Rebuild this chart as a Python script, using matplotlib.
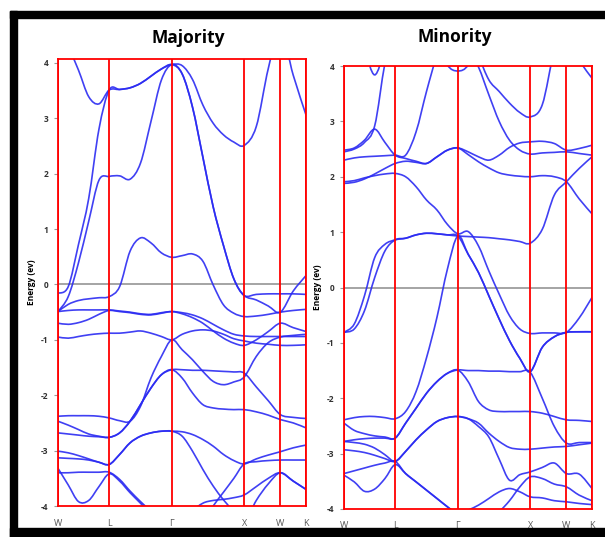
import numpy as np
import matplotlib
matplotlib.use("Agg")
import matplotlib.pyplot as plt
from matplotlib.patches import Rectangle, PathPatch
from matplotlib.path import Path

# fcc path W-L-G-X-W-K, distances in units of 2pi/a
sym_labels = ["W", "L", "Γ", "X", "W", "K"]
sym_dist = [0.0, 0.707, 1.573, 2.573, 3.073, 3.427]
seg_steps = [5, 6, 7, 3, 2]  # sample intervals per segment

# ---- Majority bands (eV), 24 samples along the path ----
#        W-L ...................................| L-G ...............................| G-X ..........................................| X-W ..............| W-K
maj_1 = [4.70, 4.30, 3.87, 3.39, 3.26, 3.51, 3.52, 3.55, 3.63, 3.76, 3.89, 3.97, 3.95, 3.70, 3.24, 2.91, 2.70, 2.57, 2.51, 2.85, 3.90, 4.60, 3.78, 3.06]
maj_2 = [-0.16, -0.04, 0.72, 1.55, 2.80, 3.51, 3.52, 3.55, 3.63, 3.76, 3.89, 3.97, 3.80, 3.20, 2.30, 1.40, 0.70, 0.10, -0.20, -0.18, -0.17, -0.17, -0.17, -0.18]
maj_3 = [-0.49, -0.22, 0.39, 1.14, 1.88, 1.95, 1.96, 1.90, 2.19, 2.94, 3.69, 3.97, 3.80, 3.20, 2.30, 1.40, 0.70, 0.10, -0.20, -0.28, -0.39, -0.50, -0.12, 0.16]
maj_4 = [-0.49, -0.36, -0.29, -0.26, -0.24, -0.22, -0.04, 0.60, 0.84, 0.75, 0.57, 0.49, 0.52, 0.55, 0.42, -0.01, -0.37, -0.52, -0.58, -0.57, -0.54, -0.50, -0.47, -0.45]
maj_5 = [-0.49, -0.47, -0.46, -0.46, -0.46, -0.46, -0.48, -0.50, -0.53, -0.54, -0.51, -0.49, -0.51, -0.55, -0.62, -0.72, -0.82, -0.90, -0.93, -0.94, -0.94, -0.94, -0.94, -0.94]
maj_6 = [-0.70, -0.72, -0.69, -0.63, -0.54, -0.47, -0.49, -0.51, -0.54, -0.55, -0.52, -0.49, -0.53, -0.60, -0.70, -0.84, -0.97, -1.06, -1.10, -1.00, -0.85, -0.70, -0.78, -0.85]
maj_7 = [-0.95, -0.97, -0.94, -0.91, -0.89, -0.88, -0.88, -0.86, -0.84, -0.88, -0.94, -1.00, -0.90, -0.84, -0.82, -0.84, -0.90, -0.98, -1.02, -1.06, -1.08, -1.10, -1.10, -1.09]
maj_8 = [-2.38, -2.37, -2.37, -2.37, -2.38, -2.41, -2.46, -2.47, -2.20, -1.69, -1.30, -1.00, -1.18, -1.36, -1.57, -1.75, -1.81, -1.76, -1.67, -1.30, -1.05, -0.95, -0.92, -0.90]
maj_9 = [-2.47, -2.54, -2.62, -2.70, -2.74, -2.76, -2.68, -2.47, -2.17, -1.87, -1.63, -1.54, -1.54, -1.55, -1.55, -1.56, -1.57, -1.58, -1.60, -1.85, -2.10, -2.35, -2.40, -2.42]
maj_10 = [-2.68, -2.70, -2.72, -2.74, -2.75, -2.76, -2.68, -2.47, -2.17, -1.87, -1.63, -1.54, -1.69, -1.96, -2.17, -2.23, -2.25, -2.26, -2.26, -2.30, -2.36, -2.44, -2.50, -2.59]
maj_11 = [-3.13, -3.14, -3.15, -3.17, -3.21, -3.25, -3.07, -2.86, -2.74, -2.68, -2.65, -2.65, -2.66, -2.71, -2.80, -2.92, -3.07, -3.18, -3.24, -3.15, -3.08, -3.02, -2.95, -2.90]
maj_12 = [-3.01, -3.04, -3.09, -3.15, -3.21, -3.25, -3.07, -2.86, -2.74, -2.68, -2.65, -2.65, -2.74, -3.01, -3.34, -3.64, -3.89, -4.10, -4.30, -3.90, -3.60, -3.40, -3.55, -3.70]
maj_13 = [-3.40, -3.40, -3.39, -3.39, -3.39, -3.39, -3.52, -3.73, -3.92, -4.10, -4.30, -4.50, -4.60, -4.50, -4.30, -4.00, -3.75, -3.50, -3.24, -3.20, -3.18, -3.17, -3.17, -3.17]
maj_14 = [-3.32, -3.62, -3.92, -3.90, -3.65, -3.42, -3.55, -3.76, -3.95, -4.15, -4.35, -4.55, -4.40, -4.10, -3.95, -3.90, -3.88, -3.85, -3.80, -3.65, -3.50, -3.40, -3.55, -3.70]

# ---- Minority bands (eV) ----
min_1 = [2.45, 2.50, 2.62, 2.92, 4.05, 4.80, 5.00, 5.00, 4.80, 4.50, 4.02, 3.91, 4.02, 4.50, 4.80, 5.00, 5.00, 5.00, 5.00, 4.90, 4.70, 4.50, 4.10, 3.78]
min_2 = [2.48, 2.52, 2.66, 2.86, 2.62, 2.39, 2.33, 2.28, 2.24, 2.36, 2.48, 2.52, 2.45, 2.36, 2.30, 2.39, 2.53, 2.61, 2.63, 2.64, 2.60, 2.48, 2.51, 2.57]
min_3 = [2.30, 2.34, 2.36, 2.37, 2.38, 2.39, 2.39, 2.81, 3.54, 4.20, 4.70, 5.00, 4.80, 4.20, 3.75, 3.54, 3.33, 3.16, 3.08, 3.30, 4.30, 5.00, 4.60, 4.30]
min_4 = [1.91, 1.93, 1.98, 2.02, 2.05, 2.06, 2.00, 1.82, 1.58, 1.40, 1.14, 0.97, 1.01, 0.75, 0.30, -0.12, -0.51, -0.75, -0.83, -0.82, -0.82, -0.81, -0.55, -0.18]
min_5 = [-0.81, -0.66, -0.15, 0.54, 0.78, 0.86, 0.89, 0.95, 0.98, 0.97, 0.95, 0.93, 0.92, 0.91, 0.90, 0.88, 0.86, 0.83, 0.80, 1.05, 1.67, 1.91, 2.15, 2.36]
min_6 = [-0.81, -0.75, -0.42, 0.18, 0.66, 0.86, 0.89, 0.95, 0.98, 0.97, 0.95, 0.93, 0.60, 0.27, -0.15, -0.57, -0.96, -1.28, -1.52, -1.08, -0.89, -0.81, -0.80, -0.80]
min_7 = [-2.39, -2.35, -2.33, -2.33, -2.35, -2.37, -2.24, -1.88, -1.27, -0.54, 0.33, 0.93, 0.60, 0.27, -0.15, -0.57, -0.96, -1.28, -1.52, -1.08, -0.89, -0.81, -0.80, -0.80]
min_8 = [-2.45, -2.58, -2.64, -2.68, -2.70, -2.72, -2.45, -2.18, -1.91, -1.70, -1.55, -1.49, -1.50, -1.50, -1.51, -1.51, -1.52, -1.52, -1.53, -2.00, -2.51, -2.81, -2.80, -2.80]
min_9 = [-2.78, -2.75, -2.73, -2.72, -2.72, -2.72, -2.45, -2.18, -1.91, -1.70, -1.55, -1.49, -1.70, -2.06, -2.21, -2.24, -2.24, -2.24, -2.24, -2.27, -2.33, -2.39, -2.40, -2.42]
min_10 = [-2.78, -2.80, -2.83, -2.90, -3.02, -3.14, -2.96, -2.75, -2.57, -2.42, -2.35, -2.33, -2.37, -2.45, -2.63, -2.78, -2.89, -2.92, -2.92, -2.90, -2.88, -2.87, -2.84, -2.81]
min_11 = [-2.93, -2.95, -2.98, -3.03, -3.09, -3.14, -2.96, -2.75, -2.57, -2.42, -2.35, -2.33, -2.37, -2.51, -2.70, -3.10, -3.48, -3.38, -3.33, -3.25, -3.17, -3.36, -3.37, -3.63]
min_12 = [-3.39, -3.51, -3.68, -3.64, -3.45, -3.20, -3.36, -3.51, -3.66, -3.81, -3.96, -4.10, -4.02, -3.93, -3.81, -3.69, -3.63, -3.69, -3.78, -3.80, -3.85, -3.87, -3.90, -3.92]
min_13 = [-3.36, -3.31, -3.26, -3.21, -3.17, -3.14, -3.36, -3.51, -3.66, -3.81, -3.96, -4.10, -4.30, -4.30, -4.20, -4.05, -3.85, -3.60, -3.42, -3.45, -3.55, -3.60, -3.75, -3.85]
min_14 = [4.60, 4.70, 4.80, 4.90, 5.00, 5.00, 5.00, 5.00, 5.00, 4.90, 4.70, 4.50, 4.30, 3.98, 3.48, 3.00, 2.66, 2.48, 2.41, 2.43, 2.44, 2.45, 2.42, 2.39]
min_15 = [1.88, 1.90, 1.96, 2.05, 2.15, 2.24, 2.28, 2.26, 2.24, 2.36, 2.48, 2.52, 2.40, 2.27, 2.16, 2.07, 2.03, 2.01, 2.00, 2.02, 2.00, 1.91, 1.60, 1.33]
min_16 = [5.00, 4.80, 4.30, 3.84, 4.30, 4.80, 5.00, 5.00, 5.00, 5.00, 5.00, 5.00, 5.00, 5.00, 5.00, 5.00, 5.00, 5.00, 5.00, 5.00, 5.00, 5.00, 5.00, 5.00]

majority = [maj_1, maj_2, maj_3, maj_4, maj_5, maj_6, maj_7, maj_8, maj_9, maj_10, maj_11, maj_12, maj_13, maj_14]
minority = [min_1, min_2, min_3, min_4, min_5, min_6, min_7, min_8, min_9, min_10, min_11, min_12, min_13, min_14, min_15, min_16]

band_col = "#2b2bf2"
font = ["Open Sans", "DejaVu Sans"]
plt.rcParams["font.family"] = font


def kgrid():
    ks = [sym_dist[0]]
    for i, n in enumerate(seg_steps):
        ks += list(np.linspace(sym_dist[i], sym_dist[i + 1], n + 1)[1:])
    return np.array(ks)


def smooth_path(x, y):
    # excel style "smoothed line": cubic bezier through the samples
    pts = np.column_stack([x, y])
    verts, codes = [pts[0]], [Path.MOVETO]
    n = len(pts)
    for i in range(n - 1):
        p0 = pts[max(i - 1, 0)]
        p1, p2 = pts[i], pts[i + 1]
        p3 = pts[min(i + 2, n - 1)]
        verts += [p1 + (p2 - p0) / 6, p2 - (p3 - p1) / 6, p2]
        codes += [Path.CURVE4] * 3
    return Path(verts, codes)


def draw_panel(ax, bands, top):
    k = kgrid()
    ax.axhline(0, color="#8c8c8c", lw=1.1, zorder=1)
    for b in bands:
        ax.add_patch(PathPatch(smooth_path(k, b), fill=False, edgecolor=band_col,
                               lw=1.2, alpha=0.9, zorder=2))
    for x in sym_dist:
        ax.axvline(x, color="red", lw=1.3, zorder=3)
    ax.set_xlim(sym_dist[0], sym_dist[-1])
    ax.set_ylim(-4, top)
    for s in ax.spines.values():
        s.set_color("red")
        s.set_linewidth(1.3)
    ax.set_yticks(range(-4, 5))
    ax.set_yticklabels([str(v) for v in range(-4, 5)], fontsize=6, fontweight="bold", color="#333333")
    ax.tick_params(axis="y", length=3, width=0.8, color="#999999", pad=4)
    ax.set_xticks(sym_dist)
    ax.set_xticklabels(sym_labels, fontsize=6.5, color="#555555")
    ax.tick_params(axis="x", length=0, pad=9)
    ax.set_ylabel("Energy (ev)", fontsize=6, fontweight="bold", labelpad=3)


fig = plt.figure(figsize=(6.05, 5.37), dpi=100)
W, H = 605, 537

ax1 = fig.add_axes([58 / W, 1 - 506 / H, 248 / W, 447 / H])
draw_panel(ax1, majority, 4.07)
ax2 = fig.add_axes([344 / W, 1 - 509 / H, 248 / W, 443 / H])
draw_panel(ax2, minority, 4.0)

fig.text(188 / W, 1 - 38 / H, "Majority", ha="center", va="center", fontsize=12.5, fontweight="bold")
fig.text(455 / W, 1 - 37 / H, "Minority", ha="center", va="center", fontsize=12.5, fontweight="bold")

# black frame of the screenshot
for (x0, y0, w, h) in [(10, 11, 7, 526), (10, 11, 595, 7), (10, 528, 595, 9)]:
    fig.patches.append(Rectangle((x0 / W, 1 - (y0 + h) / H), w / W, h / H,
                                 transform=fig.transFigure, color="black", zorder=0))

fig.savefig("out.png", dpi=100)
